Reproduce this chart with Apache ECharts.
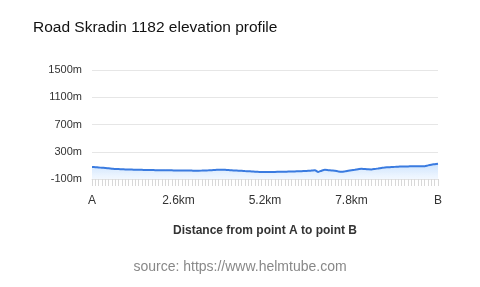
<!DOCTYPE html>
<html>
<head>
<meta charset="utf-8">
<script src="https://cdn.jsdelivr.net/npm/echarts@6/dist/echarts.min.js"></script>
<style>html,body{margin:0;padding:0;background:#fff}#c{width:480px;height:287px}</style>
</head>
<body>
<div id="c"></div>
<script>
var titleText = 'Road Skradin 1182 elevation profile';
var xAxisName = 'Distance from point A to point B';
var sourceText = 'source: https://www.helmtube.com';
var stepKm = 0.1;
var elevation = [76,73,69,65,62,57,52,47,45,43,41,39,38,37,35,34,33,32,31,30,29,29,28,27,27,26,26,25,25,24,23,22,22,23,25,27,30,33,35,36,34,31,28,25,22,20,17,14,11,8,5,3,3,3,4,4,5,6,7,9,10,11,13,15,18,20,24,28,4,22,34,30,25,21,12,7,12,20,28,36,44,51,46,42,41,47,55,63,70,72,75,78,81,83,85,85,86,86,86,87,88,100,110,117,124];
var yTicks = [-100, 300, 700, 1100, 1500];
var startLabel = 'A', endLabel = 'B';

var categories = elevation.map(function(_, i){ return (Math.round(i*stepKm*10)/10).toString(); });
var font = "'Liberation Sans', Arial, Helvetica, sans-serif";
var chart = echarts.init(document.getElementById('c'));
chart.setOption({
  animation: false,
  title: { text: titleText, left: 28, top: 15, textStyle: { fontSize: 15.5, fontWeight: 'normal', color: '#111', fontFamily: font } },
  grid: { left: 92, right: 42, top: 70, bottom: 108 },
  xAxis: {
    type: 'category', data: categories, boundaryGap: false,
    name: xAxisName, nameLocation: 'middle', nameGap: 46,
    nameTextStyle: { fontSize: 12, fontWeight: 'bold', color: '#333', fontFamily: font },
    axisLine: { onZero: false, lineStyle: { color: '#e3e3e3' } },
    axisTick: { show: true, interval: 0, length: 7, lineStyle: { color: '#d8d8d8' } },
    axisLabel: { interval: 25, margin: 16, fontSize: 12, color: '#333', fontFamily: font,
      formatter: function(v, i){ if (i === 0) return startLabel; if (i === categories.length-1) return endLabel; return v + 'km'; } },
    splitLine: { show: false }
  },
  yAxis: {
    type: 'value', min: yTicks[0], max: yTicks[yTicks.length-1], interval: yTicks[1]-yTicks[0],
    axisLine: { show: false }, axisTick: { show: false },
    axisLabel: { fontSize: 11, color: '#333', margin: 10, fontFamily: font, formatter: function(v){ return v + 'm'; } },
    splitLine: { lineStyle: { color: '#e6e6e6' } }
  },
  series: [{
    type: 'line', data: elevation, showSymbol: false, smooth: 0.3,
    lineStyle: { color: '#3a7be0', width: 2 },
    areaStyle: { origin: 'start', color: new echarts.graphic.LinearGradient(0,0,0,1,[{offset:0,color:'rgba(120,180,250,0.55)'},{offset:1,color:'rgba(200,225,255,0.35)'}]) }
  }],
  graphic: [{ type: 'text', left: 'center', top: 260, style: { text: sourceText, fontSize: 14, fill: '#888', fontFamily: font } }]
});
</script>
</body>
</html>
